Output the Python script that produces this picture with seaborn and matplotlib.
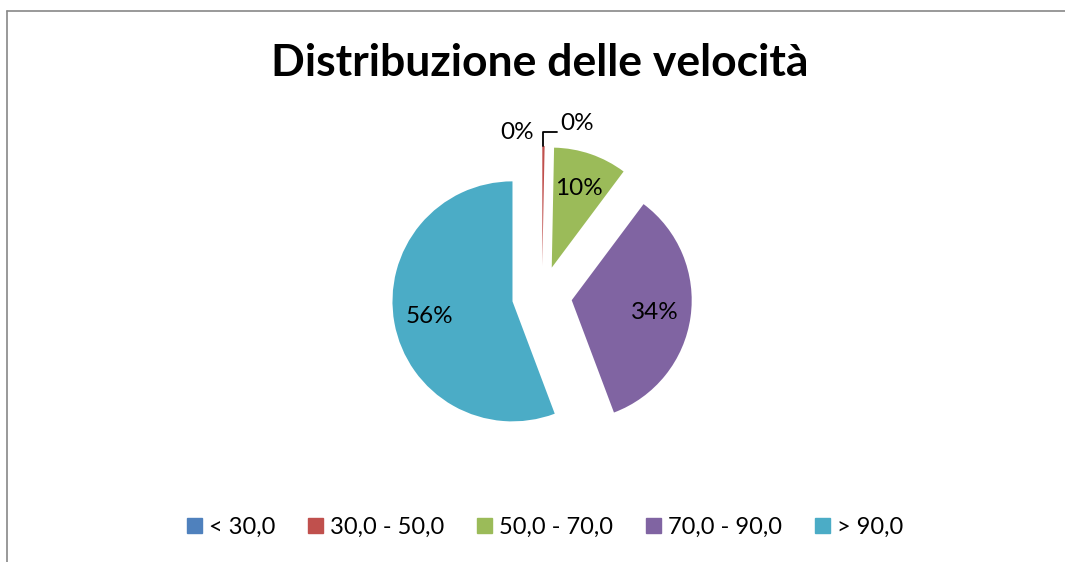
import numpy as np
import matplotlib
matplotlib.use("Agg")
import matplotlib.pyplot as plt
import seaborn as sns
from matplotlib.lines import Line2D

sns.set_theme(style="white")
plt.rcParams['font.family'] = ['Lato', 'DejaVu Sans']
plt.rcParams['text.color'] = 'black'

title = "Distribuzione delle velocità"
categories = ["< 30,0", "30,0 - 50,0", "50,0 - 70,0", "70,0 - 90,0", "> 90,0"]
values = [0, 1, 32, 110, 180]
colors = ["#4F81BD", "#C0504D", "#9BBB59", "#8064A2", "#4BACC6"]

fig = plt.figure(figsize=(10.65, 5.62), dpi=100)
ax = fig.add_axes([0.0, 0.0, 1.0, 1.0])

total = sum(values)
FS = 17.5

def fmt(p):
    return "" if p < 1 else f"{p:.0f}%"

wedges, texts, autotexts = ax.pie(
    values, colors=colors, startangle=90, counterclock=False,
    explode=[0.25] * len(values), autopct=fmt, pctdistance=0.7,
    radius=1.0, textprops=dict(fontsize=FS, color="black"),
    wedgeprops=dict(linewidth=0),
)
ax.set_aspect("equal")
# pie center at (542, 296) px, radius ~120 px
W, H = 1065, 562
cx, cy, r = 542, 296, 120
ax.set_xlim(-cx / r, (W - cx) / r)
ax.set_ylim(-(H - cy) / r, cy / r)

# small-slice labels
for i, (w, v) in enumerate(zip(wedges, values)):
    pct = 100 * v / total
    if pct >= 1:
        continue
    ang = np.deg2rad((w.theta1 + w.theta2) / 2)
    tx, ty = w.center[0] + w.r * np.cos(ang), w.center[1] + w.r * np.sin(ang)
    if v == 0:
        ax.text(tx - 0.21, ty + 0.11, f"{pct:.0f}%", ha="center", va="center", fontsize=FS)
    else:
        ax.plot([tx, tx, tx + 0.11], [ty, ty + 0.12, ty + 0.12], color="black", lw=1.3)
        ax.text(tx + 0.28, ty + 0.185, f"{pct:.0f}%", ha="center", va="center", fontsize=FS)

fig.text(540 / W, 1 - 63 / H, title, ha="center", va="center",
         fontsize=32, fontweight="bold", color="black")

handles = [plt.Rectangle((0, 0), 1, 1, color=c) for c in colors]
fig.legend(handles, categories, loc="center", bbox_to_anchor=(545 / W, 1 - 527 / H),
           ncol=5, frameon=False, fontsize=17, handlelength=0.62, handleheight=0.62,
           handletextpad=0.3, columnspacing=1.4)

# chart border
fig.add_artist(Line2D([7 / W, 7 / W], [0, 1 - 11 / H], color="#888888", lw=1.2))
fig.add_artist(Line2D([7 / W, 1], [1 - 11 / H, 1 - 11 / H], color="#888888", lw=1.2))

ax.axis("off")
fig.savefig("out.png", dpi=100)
